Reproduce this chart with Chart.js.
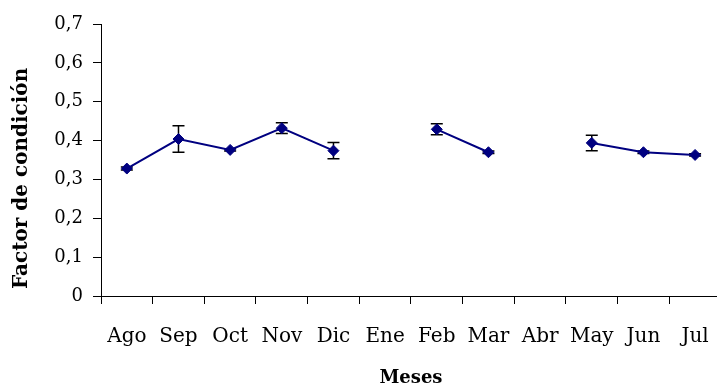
<!DOCTYPE html>
<html>
<head>
<meta charset="utf-8">
<script src="https://cdn.jsdelivr.net/npm/chart.js@4.4.1/dist/chart.umd.min.js"></script>
<style>
  html, body { margin: 0; padding: 0; background: #fff; overflow: hidden; }
  #caja { width: 730px; height: 387px; }
</style>
</head>
<body>
<div id="caja"><canvas id="grafico" width="730" height="387"></canvas></div>
<script>
const meses = ['Ago', 'Sep', 'Oct', 'Nov', 'Dic', 'Ene', 'Feb', 'Mar', 'Abr', 'May', 'Jun', 'Jul'];
const factorCondicion = [0.328, 0.404, 0.376, 0.432, 0.374, null, 0.429, 0.370, null, 0.394, 0.370, 0.363];
const errorEstandar = [0.004, 0.034, 0.003, 0.014, 0.021, null, 0.014, 0.003, null, 0.020, 0.003, 0.003];
const ticksY = [0, 0.1, 0.2, 0.3, 0.4, 0.5, 0.6, 0.7];

const fuente = "'DejaVu Serif', serif";

// barras de error dibujadas con las escalas del gráfico
const barrasError = {
    id: 'barrasError',
    beforeDatasetsDraw(chart) {
        const ctx = chart.ctx;
        const x = chart.scales.x;
        const y = chart.scales.y;
        ctx.save();
        ctx.strokeStyle = '#000';
        ctx.lineWidth = 1.5;
        factorCondicion.forEach((valor, i) => {
            const e = errorEstandar[i];
            if (valor === null || !e) return;
            const px = x.getPixelForValue(i);
            const arriba = y.getPixelForValue(valor + e);
            const abajo = y.getPixelForValue(valor - e);
            ctx.beginPath();
            ctx.moveTo(px, arriba);
            ctx.lineTo(px, abajo);
            ctx.moveTo(px - 6, arriba);
            ctx.lineTo(px + 6, arriba);
            ctx.moveTo(px - 6, abajo);
            ctx.lineTo(px + 6, abajo);
            ctx.stroke();
        });
        ctx.restore();
    }
};

new Chart(document.getElementById('grafico').getContext('2d'), {
    type: 'line',
    data: {
        labels: meses,
        datasets: [{
            label: 'Factor de condición',
            data: factorCondicion,
            borderColor: '#000080',
            backgroundColor: '#000080',
            borderWidth: 2,
            pointStyle: 'rectRot',
            pointRadius: 5.5,
            pointBackgroundColor: '#000080',
            pointBorderColor: '#000080',
            pointBorderWidth: 1,
            spanGaps: false,
            fill: false,
            tension: 0
        }]
    },
    options: {
        responsive: false,
        animation: false,
        layout: { padding: { top: 24, right: 0, left: 0, bottom: 0 } },
        plugins: {
            legend: { display: false },
            tooltip: { enabled: false }
        },
        scales: {
            x: {
                type: 'category',
                offset: true,
                afterFit: s => { s.height = 91; },
                grid: {
                    display: true,
                    offset: true,
                    drawOnChartArea: false,
                    drawTicks: true,
                    tickLength: 8,
                    color: '#000'
                },
                border: { color: '#000', width: 1 },
                ticks: {
                    color: '#000',
                    padding: 21,
                    maxRotation: 0,
                    autoSkip: false,
                    font: { family: fuente, size: 20 }
                },
                title: {
                    display: true,
                    text: 'Meses',
                    color: '#000',
                    padding: { top: 0, bottom: 0 },
                    font: { family: fuente, size: 18, weight: 'bold', lineHeight: 1.0 }
                }
            },
            y: {
                min: 0,
                max: 0.7,
                afterFit: s => { s.width = 101; },
                afterBuildTicks: s => { s.ticks = ticksY.map(v => ({ value: v })); },
                grid: {
                    display: true,
                    drawOnChartArea: false,
                    drawTicks: true,
                    tickLength: 8,
                    color: '#000'
                },
                border: { color: '#000', width: 1 },
                ticks: {
                    color: '#000',
                    padding: 10,
                    font: { family: fuente, size: 18 },
                    callback: v => v === 0 ? '0' : v.toFixed(1).replace('.', ',')
                },
                title: {
                    display: true,
                    text: ' Factor de condición',
                    align: 'start',
                    color: '#000',
                    padding: { top: 10, bottom: 0 },
                    font: { family: fuente, size: 20, weight: 'bold' }
                }
            }
        }
    },
    plugins: [barrasError]
});
</script>
</body>
</html>
